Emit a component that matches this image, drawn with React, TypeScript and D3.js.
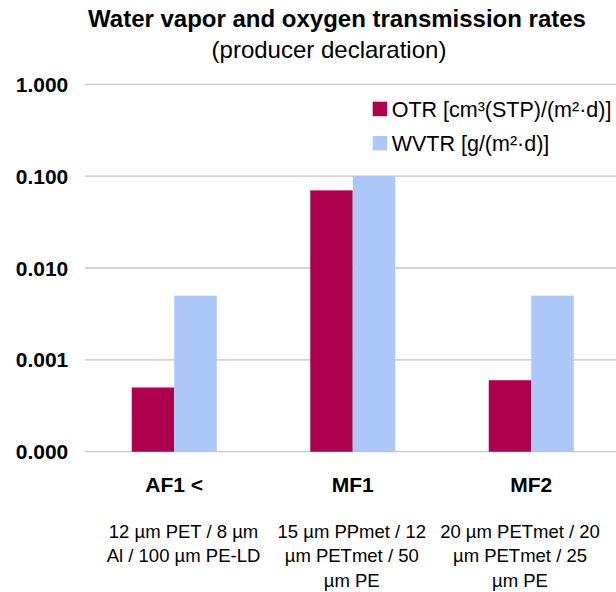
import React from "react";
import * as d3 from "d3";

const categories = ["AF1 <", "MF1", "MF2"];
const descriptions = [
  ["12 µm PET / 8 µm", "Al / 100 µm PE-LD"],
  ["15 µm PPmet / 12", "µm PETmet / 50", "µm PE"],
  ["20 µm PETmet / 20", "µm PETmet / 25", "µm PE"],
];
const seriesNames = ["OTR [cm³(STP)/(m²·d)]", "WVTR [g/(m²·d)]"];
const otrValues = [0.0005, 0.07, 0.0006];
const wvtrValues = [0.005, 0.1, 0.005];
const tickValues = [1, 0.1, 0.01, 0.001, 0.0001];
const tickLabels = ["1.000", "0.100", "0.010", "0.001", "0.000"];

const colors = ["#ad004f", "#adc8f8"];
const FONT = "'Liberation Sans', Arial, sans-serif";

export default function App() {
  const W = 616;
  const H = 592;
  const plotLeft = 85;
  const plotRight = 620.5;
  const plotTop = 84.3;
  const plotBottom = 451.7;

  const x0 = d3.scaleBand<string>().domain(categories).range([plotLeft, plotRight]).padding(0);
  const x1 = d3
    .scaleBand<string>()
    .domain(seriesNames)
    .range([0, x0.bandwidth()])
    .paddingInner(0)
    .paddingOuter(1.1);
  const y = d3.scaleLog().domain([0.0001, 1]).range([plotBottom, plotTop]);
  const descX = d3.scalePoint<string>().domain(categories).range([183.5, 520]);

  const series = [otrValues, wvtrValues];

  return (
    <svg width={W} height={H} style={{ position: "absolute", left: 0, top: 0 }} fontFamily={FONT}>
      <rect width={W} height={H} fill="#fff" />
      <text x={337} y={27.3} textAnchor="middle" fontSize={24} fontWeight="bold" fill="#000">
        Water vapor and oxygen transmission rates
      </text>
      <text x={329} y={58} textAnchor="middle" fontSize={24} fill="#000">
        (producer declaration)
      </text>

      {tickValues.map((t, i) => (
        <g key={i}>
          <line x1={plotLeft} x2={W} y1={y(t)} y2={y(t)} stroke="#c6c6c6" strokeWidth={1.3} />
          <text x={68.3} y={y(t) + 7.5} textAnchor="end" fontSize={21} fontWeight="bold" fill="#000">
            {tickLabels[i]}
          </text>
        </g>
      ))}

      {categories.map((c, ci) =>
        series.map((vals, si) => {
          const xx = (x0(c) as number) + (x1(seriesNames[si]) as number);
          return (
            <rect
              key={c + si}
              x={xx}
              y={y(vals[ci])}
              width={x1.bandwidth()}
              height={y(0.0001) - y(vals[ci])}
              fill={colors[si]}
            />
          );
        })
      )}

      {categories.map((c) => (
        <text
          key={c}
          x={(x0(c) as number) + x0.bandwidth() / 2}
          y={492}
          textAnchor="middle"
          fontSize={21}
          fontWeight="bold"
          fill="#000"
        >
          {c}
        </text>
      ))}

      {categories.map((c, ci) =>
        descriptions[ci].map((line, li) => (
          <text
            key={c + li}
            x={descX(c) as number}
            y={537.5 + li * 24.8}
            textAnchor="middle"
            fontSize={18.5}
            fill="#000"
          >
            {line}
          </text>
        ))
      )}

      {seriesNames.map((s, i) => (
        <g key={s}>
          <rect x={372.7} y={101.7 + i * 34.3} width={14.5} height={14.5} fill={colors[i]} />
          <text x={391.7} y={116.5 + i * 34.3} fontSize={21.5} fill="#000">
            {s}
          </text>
        </g>
      ))}
    </svg>
  );
}
